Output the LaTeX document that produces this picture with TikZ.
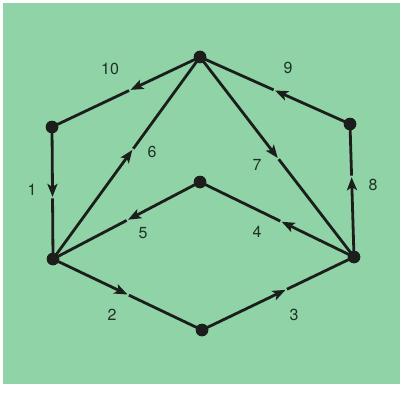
\documentclass[tikz,border=0pt]{standalone}
\usepackage{fontspec}
\setmainfont{TeX Gyre Heros}
\usetikzlibrary{arrows.meta,calc}
\definecolor{bg}{RGB}{143,211,166}
\definecolor{ink}{RGB}{28,30,28}
\definecolor{txt}{RGB}{30,50,38}
\tikzset{
  dot/.style={circle,fill=ink,minimum size=12.5pt,inner sep=0pt},
  ln/.style={draw=ink,line width=2.8pt},
  arr/.style={ln,-{Stealth[length=13pt,width=10pt,inset=3pt]}},
  lab/.style={text=txt,font=\fontsize{16}{16}\selectfont,inner sep=0pt}
}
\newcommand{\gedge}[3]{%
  \draw[arr] (#1.center) -- ($(#1.center)!#3!(#2.center)$);
  \draw[ln] ($($(#1.center)!#3!(#2.center)$)!1.5pt!(#2.center)$) -- (#2.center);}
\begin{document}
\begin{tikzpicture}[x=1pt,y=-1pt]
\useasboundingbox (0,0) rectangle (409,393);
\fill[white] (0,0) rectangle (409,393);
\fill[bg] (3,3) rectangle (400,384);
\node[dot] (T)  at (200,57) {};
\node[dot] (UL) at (52,127) {};
\node[dot] (UR) at (350,124) {};
\node[dot] (C)  at (200,182) {};
\node[dot] (LL) at (53,259) {};
\node[dot] (LR) at (354,257) {};
\node[dot] (B)  at (202,330) {};
\gedge{UL}{LL}{0.53}
\gedge{LL}{B}{0.50}
\gedge{B}{LR}{0.55}
\gedge{LR}{C}{0.47}
\gedge{C}{LL}{0.49}
\gedge{LL}{T}{0.54}
\gedge{T}{LR}{0.505}
\gedge{LR}{UR}{0.60}
\gedge{UR}{T}{0.50}
\gedge{T}{UL}{0.47}
\node[dot] at (T) {};
\node[dot] at (UL) {};
\node[dot] at (UR) {};
\node[dot] at (C) {};
\node[dot] at (LL) {};
\node[dot] at (LR) {};
\node[dot] at (B) {};
\node[lab] (l1)  at (32,190) {1};
\node[lab] (l2)  at (112,315) {2};
\node[lab] (l3)  at (294,315) {3};
\node[lab] (l4)  at (257,232) {4};
\node[lab] (l5)  at (143,233) {5};
\node[lab] (l6)  at (152,152) {6};
\node[lab] (l7)  at (257,165) {7};
\node[lab] (l8)  at (373,185) {8};
\node[lab] (l9)  at (288,68) {9};
\node[lab] (l10) at (110,69) {10};
\end{tikzpicture}
\end{document}
